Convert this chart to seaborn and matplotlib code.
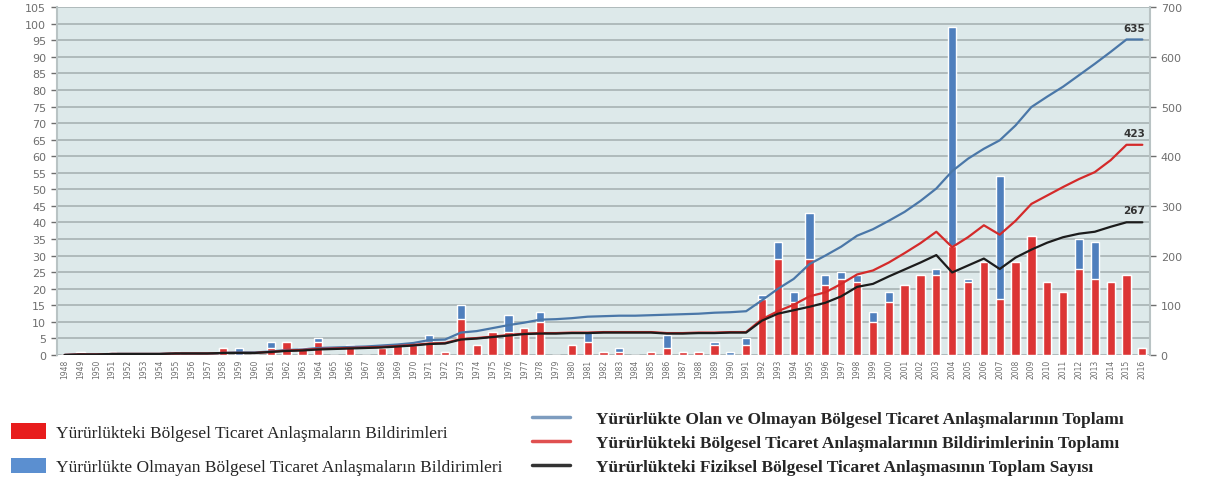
# Bölgesel ticaret anlaşmaları bildirimleri, 1948-2016
# bars = yearly notifications (left axis), lines = cumulative totals (right axis)

import matplotlib
matplotlib.use("Agg")
import matplotlib.pyplot as plt
from matplotlib.patches import Patch
from matplotlib.lines import Line2D
import numpy as np
import seaborn as sns

years = list(range(1948, 2017))

# yearly notifications: in force (red) and not in force (blue)
in_force = [0, 1, 0, 1, 0, 0, 0, 1, 0, 0, 2, 0, 0, 2, 4, 2, 4, 0, 3, 0,
            2, 3, 3, 4, 1, 11, 3, 7, 7, 8, 10, 0, 3, 4, 1, 1, 0, 1, 2, 1,
            1, 3, 0, 3, 17, 29, 16, 29, 21, 23, 22, 10, 16, 21, 24, 24, 33, 22, 28, 17,
            28, 36, 22, 19, 26, 23, 22, 24, 2]
not_in_force = [0, 0, 0, 0, 0, 0, 0, 0, 0, 0, 0, 2, 0, 2, 0, 0, 1, 0, 0, 0,
                0, 0, 0, 2, 0, 4, 0, 0, 5, 0, 3, 0, 0, 3, 0, 1, 0, 0, 4, 0,
                0, 1, 1, 2, 1, 5, 3, 14, 3, 2, 2, 3, 3, 0, 0, 2, 66, 1, 0, 37,
                0, 0, 0, 0, 9, 11, 0, 0, 0]

# cumulative lines (right axis)
total_cum = [0, 1, 1, 2, 2, 2, 2, 3, 3, 3, 4, 5, 5, 7, 10, 11, 14, 15, 16, 17,
             19, 21, 24, 30, 31, 45, 48, 54, 60, 65, 71, 72, 74, 77, 78, 79, 79, 80, 81, 82,
             83, 85, 86, 88, 110, 133, 153, 183, 200, 218, 240, 253, 270, 288, 310, 335, 370, 395, 415, 432,
             462, 499, 520, 540, 563, 586, 610, 635, 635]
in_force_cum = [0, 1, 1, 2, 2, 2, 2, 3, 3, 3, 4, 4, 4, 6, 9, 10, 12, 13, 14, 15,
                16, 18, 20, 23, 24, 32, 34, 37, 40, 43, 44, 44, 45, 45, 46, 46, 46, 46, 44, 44,
                45, 45, 46, 46, 72, 88, 101, 118, 126, 143, 162, 170, 186, 205, 225, 248, 217, 237, 261, 242,
                270, 304, 321, 338, 354, 368, 392, 423, 423]
physical_cum = [0, 1, 1, 2, 2, 2, 2, 3, 3, 3, 4, 4, 4, 6, 8, 9, 11, 12, 13, 14,
                15, 17, 19, 22, 23, 31, 33, 36, 39, 42, 43, 43, 44, 44, 45, 45, 45, 45, 43, 43,
                44, 44, 45, 45, 69, 83, 90, 97, 105, 118, 137, 143, 158, 172, 186, 201, 166, 180, 194, 173,
                196, 212, 226, 237, 244, 248, 258, 267, 267]

labels = {
    "red_bar": "Yürürlükteki Bölgesel Ticaret Anlaşmaların Bildirimleri",
    "blue_bar": "Yürürlükte Olmayan Bölgesel Ticaret Anlaşmaların Bildirimleri",
    "blue_line": "Yürürlükte Olan ve Olmayan Bölgesel Ticaret Anlaşmalarının Toplamı",
    "red_line": "Yürürlükteki Bölgesel Ticaret Anlaşmalarının Bildirimlerinin Toplamı",
    "black_line": "Yürürlükteki Fiziksel Bölgesel Ticaret Anlaşmasının Toplam Sayısı",
}

RED = "#dc3535"
BLUE = "#4f7fbd"
BLUE_LINE = "#4a77a8"
RED_LINE = "#d42a2a"
BLACK_LINE = "#1c1c1c"
GRAY = "#6e6e6e"

sns.set_style("white")
plt.rcParams["font.family"] = ["DejaVu Sans"]

fig = plt.figure(figsize=(12.07, 4.81), dpi=100)
ax = fig.add_axes([0.047, 0.26, 0.906, 0.723])
ax.set_facecolor("#dde9ea")

year_labels = [str(y) for y in years]
totals = [a + b for a, b in zip(in_force, not_in_force)]

# stacked bars: full height in blue, in-force part in red over it
sns.barplot(x=year_labels, y=totals, color=BLUE, saturation=1, width=0.52, ax=ax)
sns.barplot(x=year_labels, y=in_force, color=RED, saturation=1, width=0.52, ax=ax)

ax.set_xlim(-0.5, len(years) - 0.5)
ax.set_ylim(0, 105)
ax.set_yticks(range(0, 106, 5))
ax.yaxis.grid(True, color="#a3adaf", linewidth=1.1)
ax.set_axisbelow(True)
ax.tick_params(axis="y", colors=GRAY, labelsize=8, length=4, width=1)
ax.tick_params(axis="x", colors=GRAY, labelsize=5.5, labelrotation=90, length=0, pad=3)
for side in ["top", "right", "bottom"]:
    ax.spines[side].set_visible(False)
ax.spines["left"].set_color("#b9c3c4")
ax.spines["left"].set_linewidth(1.5)
ax.set(xlabel="", ylabel="")

ax2 = ax.twinx()
x_pos = np.arange(len(years))
sns.lineplot(x=x_pos, y=total_cum, color=BLUE_LINE, linewidth=1.6, ax=ax2)
sns.lineplot(x=x_pos, y=in_force_cum, color=RED_LINE, linewidth=1.6, ax=ax2)
sns.lineplot(x=x_pos, y=physical_cum, color=BLACK_LINE, linewidth=1.6, ax=ax2)
ax2.set_ylim(0, 700)
ax2.set_yticks(range(0, 701, 100))
ax2.tick_params(axis="y", colors=GRAY, labelsize=8, length=4, width=1)
for side in ["top", "left", "bottom"]:
    ax2.spines[side].set_visible(False)
ax2.spines["right"].set_color("#b9c3c4")
ax2.spines["right"].set_linewidth(1.5)
ax2.set_xlim(-0.5, len(years) - 0.5)

# end values
for series in [total_cum, in_force_cum, physical_cum]:
    ax2.annotate(f"{series[-1]}", (x_pos[-1], series[-1]), xytext=(2, 5),
                 textcoords="offset points", ha="right", va="bottom",
                 fontsize=7.5, fontweight="bold", color="#333333")

# legends
serif = ["Liberation Serif", "DejaVu Serif"]
bar_handles = [Patch(facecolor="#e81c1c", edgecolor="none"),
               Patch(facecolor="#5b8fd0", edgecolor="none")]
leg1 = fig.legend(bar_handles, [labels["red_bar"], labels["blue_bar"]],
                  loc="upper left", bbox_to_anchor=(-0.004, 0.15), frameon=False,
                  prop={"family": serif, "size": 12.5}, handlelength=2.0, handleheight=1.0,
                  labelspacing=0.95, handletextpad=0.6)
line_handles = [Line2D([], [], color="#7d9cbf", linewidth=2.5),
                Line2D([], [], color="#e05050", linewidth=2.5),
                Line2D([], [], color="#333333", linewidth=2.5)]
leg2 = fig.legend(line_handles, [labels["blue_line"], labels["red_line"], labels["black_line"]],
                  loc="upper left", bbox_to_anchor=(0.428, 0.176), frameon=False,
                  prop={"family": serif, "size": 12.5}, handlelength=2.2,
                  labelspacing=0.45, handletextpad=1.5)
for t in leg2.get_texts():
    t.set_fontweight("bold")

fig.savefig("out.png", dpi=100)
